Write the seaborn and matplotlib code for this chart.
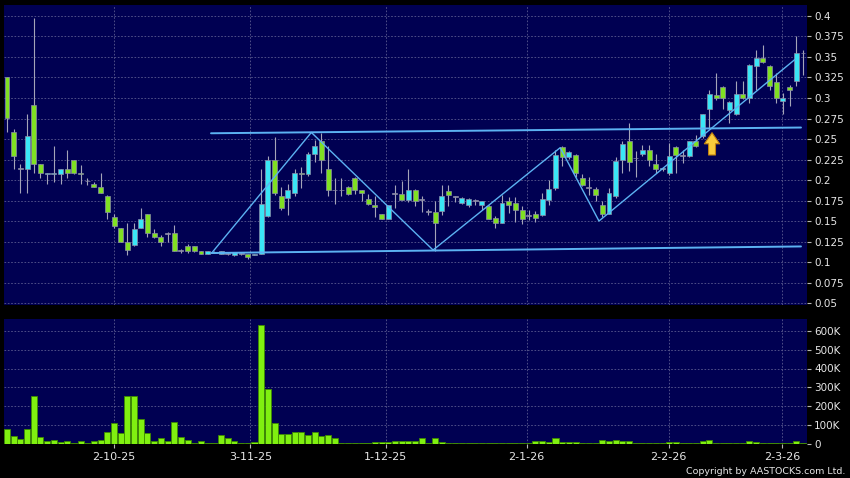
import numpy as np
import pandas as pd
import seaborn as sns
import matplotlib
matplotlib.use('Agg')
import matplotlib.pyplot as plt

# daily OHLC, one entry per trading day
opens = [0.325, 0.258, 0.214, 0.214, 0.291, 0.220, 0.207, 0.207, 0.207, 0.214,
         0.225, 0.209, 0.199, 0.195, 0.192, 0.181, 0.155, 0.141, 0.125, 0.121,
         0.142, 0.158, 0.135, 0.130, 0.135, 0.136, 0.114, 0.120, 0.119, 0.113,
         0.110, 0.112, 0.110, 0.110, 0.108, 0.110, 0.110, 0.108, 0.110, 0.156,
         0.225, 0.181, 0.178, 0.184, 0.209, 0.207, 0.232, 0.247, 0.214, 0.188,
         0.188, 0.192, 0.203, 0.188, 0.177, 0.169, 0.158, 0.153, 0.1835, 0.1835,
         0.176, 0.188, 0.176, 0.162, 0.161, 0.162, 0.186, 0.180, 0.172, 0.169,
         0.175, 0.169, 0.168, 0.154, 0.147, 0.174, 0.172, 0.164, 0.157, 0.159,
         0.157, 0.176, 0.190, 0.240, 0.228, 0.231, 0.203, 0.191, 0.189, 0.169,
         0.159, 0.180, 0.225, 0.248, 0.227, 0.232, 0.237, 0.219, 0.213, 0.209,
         0.240, 0.230, 0.229, 0.247, 0.254, 0.286, 0.304, 0.314, 0.285, 0.280,
         0.305, 0.300, 0.339, 0.349, 0.339, 0.320, 0.296, 0.314, 0.321, 0.355]
highs = [0.326, 0.262, 0.220, 0.280, 0.398, 0.220, 0.209, 0.241, 0.214, 0.237,
         0.225, 0.218, 0.203, 0.198, 0.209, 0.182, 0.158, 0.141, 0.147, 0.147,
         0.166, 0.158, 0.140, 0.133, 0.137, 0.145, 0.116, 0.122, 0.119, 0.113,
         0.114, 0.113, 0.114, 0.111, 0.112, 0.111, 0.110, 0.110, 0.214, 0.229,
         0.252, 0.192, 0.195, 0.214, 0.216, 0.234, 0.249, 0.257, 0.242, 0.203,
         0.203, 0.193, 0.204, 0.188, 0.183, 0.181, 0.158, 0.170, 0.194, 0.199,
         0.214, 0.189, 0.181, 0.165, 0.175, 0.194, 0.194, 0.181, 0.179, 0.178,
         0.177, 0.175, 0.169, 0.156, 0.182, 0.179, 0.179, 0.168, 0.163, 0.162,
         0.184, 0.200, 0.237, 0.241, 0.235, 0.232, 0.207, 0.204, 0.192, 0.175,
         0.190, 0.228, 0.248, 0.270, 0.235, 0.243, 0.243, 0.232, 0.216, 0.245,
         0.242, 0.237, 0.248, 0.255, 0.281, 0.310, 0.331, 0.315, 0.296, 0.321,
         0.321, 0.341, 0.359, 0.365, 0.340, 0.330, 0.306, 0.316, 0.376, 0.359]
lows = [0.258, 0.214, 0.184, 0.184, 0.209, 0.203, 0.195, 0.198, 0.195, 0.203,
        0.207, 0.195, 0.194, 0.191, 0.184, 0.153, 0.142, 0.125, 0.108, 0.120,
        0.141, 0.131, 0.129, 0.120, 0.125, 0.114, 0.111, 0.111, 0.112, 0.110,
        0.110, 0.111, 0.110, 0.108, 0.107, 0.109, 0.104, 0.108, 0.110, 0.155,
        0.182, 0.163, 0.157, 0.180, 0.190, 0.205, 0.222, 0.209, 0.181, 0.171,
        0.180, 0.182, 0.183, 0.175, 0.170, 0.155, 0.153, 0.153, 0.166, 0.176,
        0.173, 0.168, 0.161, 0.157, 0.114, 0.157, 0.168, 0.173, 0.171, 0.167,
        0.170, 0.163, 0.152, 0.142, 0.147, 0.160, 0.149, 0.146, 0.151, 0.149,
        0.156, 0.169, 0.188, 0.217, 0.226, 0.204, 0.193, 0.182, 0.175, 0.155,
        0.158, 0.178, 0.209, 0.211, 0.204, 0.229, 0.217, 0.208, 0.211, 0.206,
        0.208, 0.221, 0.228, 0.240, 0.251, 0.263, 0.298, 0.286, 0.269, 0.279,
        0.299, 0.294, 0.310, 0.343, 0.310, 0.294, 0.281, 0.290, 0.315, 0.328]
closes = [0.276, 0.229, 0.214, 0.254, 0.220, 0.209, 0.209, 0.209, 0.214, 0.209,
          0.209, 0.207, 0.199, 0.192, 0.184, 0.161, 0.144, 0.125, 0.115, 0.140,
          0.153, 0.135, 0.130, 0.125, 0.135, 0.114, 0.114, 0.114, 0.113, 0.110,
          0.114, 0.112, 0.114, 0.110, 0.112, 0.110, 0.106, 0.110, 0.171, 0.225,
          0.184, 0.166, 0.188, 0.209, 0.207, 0.232, 0.242, 0.225, 0.188, 0.188,
          0.188, 0.183, 0.188, 0.184, 0.171, 0.167, 0.153, 0.169, 0.1835, 0.176,
          0.188, 0.175, 0.176, 0.162, 0.147, 0.181, 0.182, 0.180, 0.178, 0.177,
          0.175, 0.174, 0.153, 0.147, 0.172, 0.169, 0.163, 0.152, 0.157, 0.154,
          0.177, 0.189, 0.230, 0.228, 0.234, 0.209, 0.194, 0.191, 0.182, 0.158,
          0.184, 0.223, 0.244, 0.222, 0.227, 0.237, 0.225, 0.214, 0.215, 0.229,
          0.231, 0.230, 0.247, 0.242, 0.280, 0.305, 0.300, 0.300, 0.295, 0.305,
          0.300, 0.340, 0.349, 0.344, 0.315, 0.300, 0.300, 0.310, 0.355, 0.355]
# volume in thousands of shares
volume_k = [75, 41, 23, 77, 253, 37, 14, 18, 7, 14,
            5, 16, 5, 12, 18, 59, 109, 57, 254, 253,
            133, 57, 12, 27, 11, 116, 34, 18, 5, 12,
            1, 5, 43, 28, 14, 5, 2, 9, 630, 290,
            107, 53, 53, 60, 60, 46, 64, 41, 44, 28,
            5, 0.5, 1, 5, 2, 9, 7, 7, 16, 12,
            11, 11, 28, 5, 32, 7, 0.5, 1, 1, 0.5,
            1, 0.5, 0.5, 5, 2, 1, 5, 1, 1, 12,
            14, 7, 27, 7, 7, 7, 0.5, 1, 5, 20,
            12, 21, 12, 12, 5, 5, 5, 5, 0.5, 7,
            9, 0.5, 5, 5, 12, 21, 5, 5, 1, 1,
            0.5, 11, 7, 0.5, 1, 5, 1, 1, 16, 1]

# date labels and where they fall on the trading-day index
tick_labels = ['2-10-25', '3-11-25', '1-12-25', '2-1-26', '2-2-26', '2-3-26']
tick_idx = [16.0, 36.4, 56.6, 77.7, 98.9, 115.9]

# drawn trend lines: (trading-day index, price) anchors
channel_top_idx = [30.5, 118.7]
channel_top_val = [0.257, 0.264]
channel_bot_idx = [30.5, 118.7]
channel_bot_val = [0.111, 0.119]
zigzag_idx = [30.6, 45.5, 63.7, 82.7, 88.5, 117.8]
zigzag_val = [0.111, 0.258, 0.1146, 0.2394, 0.150, 0.347]
signal_idx = 105.4
signal_tip, signal_base = 0.2577, 0.2305

price_ticks = [0.05, 0.075, 0.1, 0.125, 0.15, 0.175, 0.2, 0.225,
               0.25, 0.275, 0.3, 0.325, 0.35, 0.375, 0.4]
vol_ticks_k = [0, 100, 200, 300, 400, 500, 600]

UP = '#3ae6f6'
DOWN = '#80e022'
FLAT = '#a0a0b0'
LINE = '#5cb2f2'
TXT = '#e6e6e6'
GRID = '#5a5a90'

sns.set_theme(style='dark', rc={'axes.facecolor': '#000052',
                                'figure.facecolor': 'black'})
plt.rcParams['font.family'] = ['DejaVu Sans']

o = np.array(opens)
h = np.array(highs)
l = np.array(lows)
c = np.array(closes)
n = len(o)
idx = np.arange(n)
df = pd.DataFrame({'day': idx, 'vol': np.array(volume_k) * 1000})

fig = plt.figure(figsize=(8.5, 4.78), dpi=100)
ax = fig.add_axes([4 / 850, 1 - 305 / 478, 803 / 850, 300 / 478])
axv = fig.add_axes([4 / 850, 1 - 443.5 / 478, 803 / 850, 124.5 / 478])

# candles
colors = np.where(c > o, UP, np.where(c < o, DOWN, FLAT))
body_h = np.maximum(np.abs(c - o), 0.0008)
body_b = np.where(np.abs(c - o) < 0.0008, o - 0.0004, np.minimum(o, c))
ax.vlines(idx, l, h, color='#a4a4b8', lw=0.8, zorder=2)
ax.bar(idx, body_h, bottom=body_b, width=0.74, color=colors,
       edgecolor='#8c8ca8', linewidth=0.5, zorder=3)

# trend lines
ax.plot(channel_top_idx, channel_top_val, color=LINE, lw=1.4, zorder=4)
ax.plot(channel_bot_idx, channel_bot_val, color=LINE, lw=1.4, zorder=4)
ax.plot(zigzag_idx, zigzag_val, color=LINE, lw=1.0, zorder=4)
ax.annotate('', xy=(signal_idx, signal_tip), xytext=(signal_idx, signal_base),
            arrowprops=dict(arrowstyle='simple,head_length=0.8,head_width=1.1,tail_width=0.5',
                            mutation_scale=10, fc='#f8cc3c', ec='#c08010', lw=0.8,
                            shrinkA=0, shrinkB=0), zorder=5)

# volume
sns.barplot(data=df, x='day', y='vol', native_scale=True, color='#80f010',
            saturation=1, width=0.9, edgecolor='#3e8a00', linewidth=0.6,
            errorbar=None, ax=axv)

for a in (ax, axv):
    a.set_xlim(-0.45, 119.6)
    a.set_xticks(tick_idx)
    a.grid(True, color=GRID, ls=(0, (2, 2)), lw=0.6)
    a.set_axisbelow(True)
    a.yaxis.tick_right()
    a.tick_params(axis='y', colors='#b8b8b8', labelcolor=TXT, labelsize=7.5,
                  length=3, width=0.8, pad=2, left=False, right=True)
    for s in a.spines.values():
        s.set_visible(False)
    a.set_xlabel('')
    a.set_ylabel('')

ax.set_ylim(0.0476, 0.4134)
ax.set_yticks(price_ticks)
ax.set_yticklabels([f'{v:g}' for v in price_ticks])
ax.tick_params(axis='x', length=0, labelbottom=False)

axv.set_ylim(0, 664000)
axv.set_yticks([v * 1000 for v in vol_ticks_k])
axv.set_yticklabels(['0' if v == 0 else f'{v}K' for v in vol_ticks_k])
axv.set_xticklabels(tick_labels)
axv.tick_params(axis='x', colors='#b8b8b8', labelcolor=TXT, labelsize=8,
                length=3, width=0.8, pad=3, bottom=True)

fig.text(845 / 850, 1 - 471 / 478, 'Copyright by AASTOCKS.com Ltd.',
         ha='right', va='center', color=TXT, fontsize=6.8)

fig.savefig('out.png', dpi=100, facecolor='black')
